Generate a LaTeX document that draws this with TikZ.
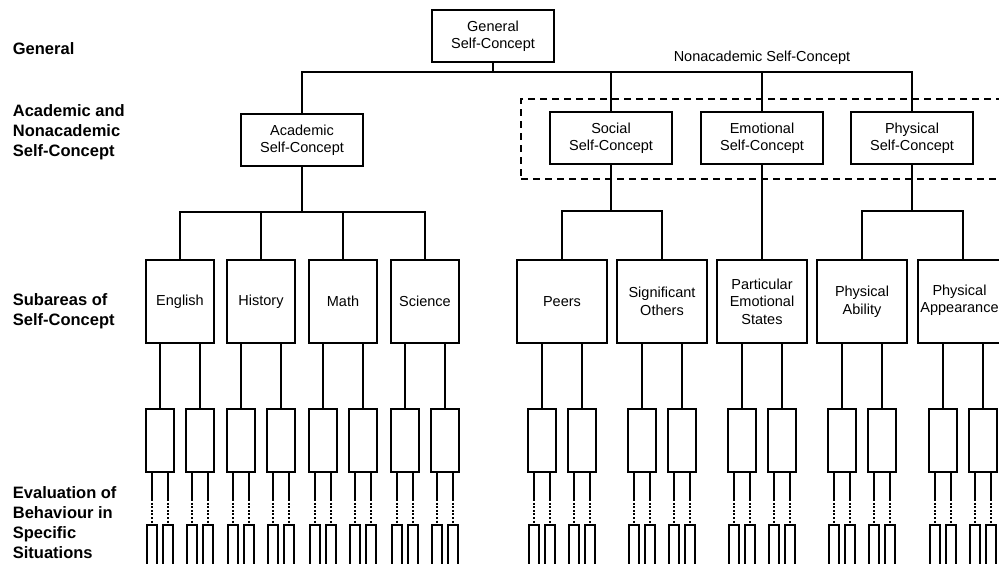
\documentclass[tikz,border=0pt]{standalone}
\usepackage{fontspec}
\setmainfont{Liberation Sans}
\begin{document}
\begin{tikzpicture}[x=1pt,y=-1pt,line width=1.8pt,
  boxfont/.style={font=\fontsize{14.5}{17.5}\selectfont},
  box/.style={draw,boxfont,align=center,inner sep=0pt,outer sep=0pt},
  topbox/.style={box,minimum width=122pt,minimum height=52pt},
  subl/.style={box,minimum width=68pt,minimum height=83pt},
  subr/.style={box,minimum width=90pt,minimum height=83pt},
  smallbox/.style={draw,inner sep=0pt,outer sep=0pt,minimum width=28pt,minimum height=63pt},
  tinybox/.style={draw,inner sep=0pt,outer sep=0pt,minimum width=10pt,minimum height=50pt},
  dotline/.style={dash pattern=on 2pt off 1.6pt},
  dashbox/.style={draw,dash pattern=on 7pt off 5pt,inner sep=0pt,outer sep=0pt},
  lab/.style={font=\fontsize{16.5}{20}\selectfont\bfseries,align=left,anchor=west,inner sep=0pt}]
\useasboundingbox (0,0) rectangle (999,563);
\clip (0,0) rectangle (999,563);

% level labels
\node[lab] (lgen) at (12,49) {General};
\node[lab] (lacad) at (12,132) {Academic and\\Nonacademic\\Self-Concept};
\node[lab] (lsub) at (12,311) {Subareas of\\Self-Concept};
\node[lab] (leval) at (12,523) {Evaluation of\\Behaviour in\\Specific\\Situations};

% top
\node[topbox] (gen) at (493,36) {General\\Self-Concept};
\node[topbox] (aca) at (302,140) {Academic\\Self-Concept};
\node[dashbox,anchor=north west,minimum width=495pt,minimum height=80pt] (ncbox) at (521,99) {};
\node[topbox] (soc) at (611,138) {Social\\Self-Concept};
\node[topbox] (emc) at (762,138) {Emotional\\Self-Concept};
\node[topbox] (phc) at (912,138) {Physical\\Self-Concept};
\node[boxfont,inner sep=0pt] (nonlab) at (762,58) {Nonacademic Self-Concept};

% subareas
\node[subl] (eng) at (180,301.5) {English};
\node[subl] (his) at (261,301.5) {History};
\node[subl] (mat) at (343,301.5) {Math};
\node[subl] (sci) at (425,301.5) {Science};
\node[subr] (pee) at (562,301.5) {Peers};
\node[subr] (sig) at (662,301.5) {Significant\\Others};
\node[subr] (emo) at (762,301.5) {Particular\\Emotional\\States};
\node[subr] (abi) at (862,301.5) {Physical\\Ability};
\node[subr] (app) at (963,301.5) {};
\node[boxfont,align=center,inner sep=0pt] (applab) at (959.5,300) {Physical\\Appearance};

% junctions
\coordinate (j1) at (493,72);
\coordinate (j2) at (302,212);
\coordinate (j3) at (611,211);
\coordinate (j4) at (912,211);

\draw (gen.south) -- (j1);
\draw (aca.north) |- (j1) -| (phc.north);
\draw (j1 -| soc) -- (soc.north);
\draw (j1 -| emc) -- (emc.north);

\draw (aca.south) -- (j2);
\draw (eng.north) |- (j2) -| (sci.north);
\draw (j2 -| his) -- (his.north);
\draw (j2 -| mat) -- (mat.north);

\draw (soc.south) -- (j3);
\draw (pee.north) |- (j3) -| (sig.north);
\draw (emc.south) -- (emo.north);
\draw (phc.south) -- (j4);
\draw (abi.north) |- (j4) -| (app.north);

% lower levels
\foreach \n/\cx in {eng/180, his/261, mat/343, sci/425, pee/562, sig/662, emo/762, abi/862, app/963} {
  \foreach \s/\dx in {a/-20, b/20} {
    \node[smallbox] (\n\s) at ({\cx+\dx},440.5) {};
    \draw (\n.south -| \n\s) -- (\n\s.north);
    \foreach \t/\ex in {1/-8, 2/8} {
      \node[tinybox,anchor=north] (\n\s\t) at ({\cx+\dx+\ex},525) {};
      \coordinate (\n\s\t m) at ({\cx+\dx+\ex},499);
      \draw (\n\s.south -| \n\s\t) -- (\n\s\t m);
      \draw[dotline] (\n\s\t m) -- (\n\s\t.north);
    }
  }
}
\end{tikzpicture}
\end{document}
